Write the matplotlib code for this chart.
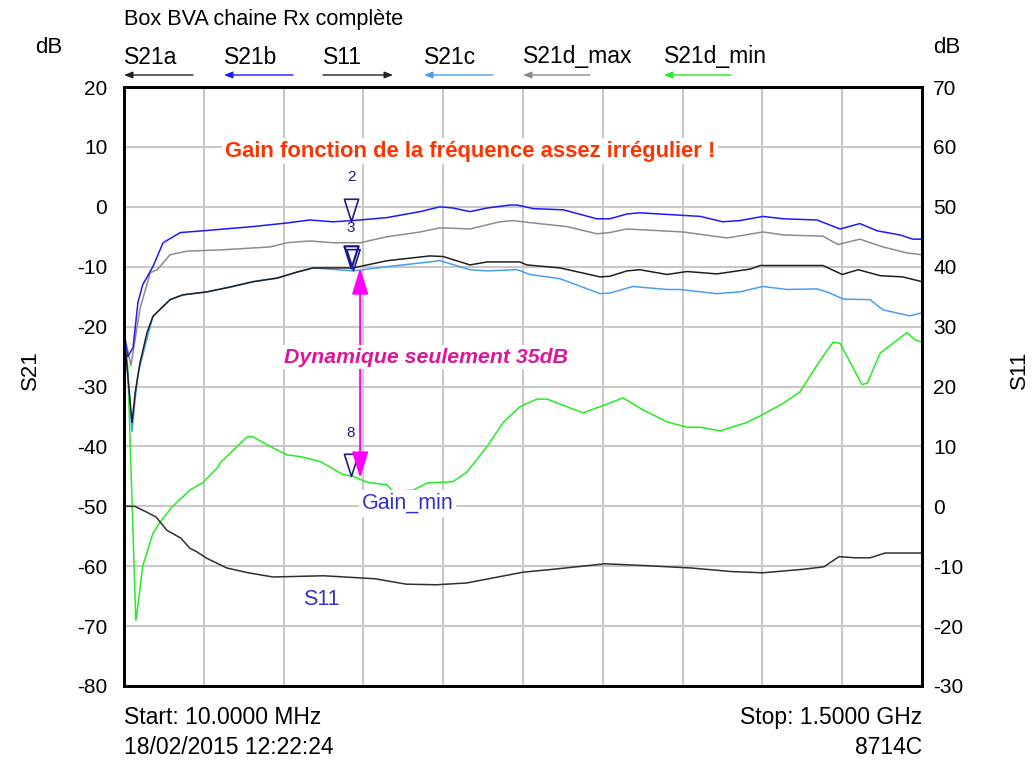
import matplotlib
matplotlib.use("Agg")
import matplotlib.pyplot as plt
from matplotlib.path import Path

plt.rcParams['font.family'] = ['Liberation Sans', 'DejaVu Sans']
plt.rcParams['axes.unicode_minus'] = False

# frequencies in MHz, levels in dB
s21b_f = [10, 17, 27, 36, 45, 64, 83, 115, 158, 251, 314, 357, 400, 438, 501, 563, 600, 624, 656, 688,
          731, 744, 774, 830, 893, 917, 949, 973, 1086, 1128, 1160, 1203, 1241, 1304, 1347, 1384, 1416,
          1459, 1483, 1500]
s21b_db = [-21, -25, -23.5, -16, -13, -10, -6, -4.3, -4, -3.3, -2.7, -2.2, -2.5, -2.3, -1.8, -0.8, 0, -0.2,
           -0.8, -0.2, 0.3, 0.3, -0.3, -0.5, -2, -2, -1.2, -1, -1.6, -2.5, -2.3, -1.6, -2, -2.2, -3.7, -2.8,
           -4, -4.7, -5.4, -5.4]

s21dmax_f = [10, 17, 23, 31, 40, 59, 72, 96, 128, 189, 283, 314, 357, 400, 451, 501, 563, 600, 656, 688,
             712, 736, 774, 837, 893, 917, 949, 1054, 1136, 1203, 1241, 1315, 1343, 1384, 1427, 1472, 1500]
s21dmax_db = [-21, -24, -26.5, -22, -17, -11, -10.5, -8, -7.4, -7.2, -6.7, -6, -5.7, -6, -6, -5, -4.2, -3.5,
              -3.7, -3, -2.5, -2.3, -2.7, -3.3, -4.5, -4.3, -3.7, -4.2, -5.2, -4.2, -4.7, -4.9, -6.3, -5.4,
              -6.7, -7.7, -8]

s21a_f = [10, 17, 25, 31, 40, 53, 64, 96, 120, 165, 208, 251, 296, 333, 363, 438, 501, 581, 606, 656, 688,
          749, 762, 824, 899, 917, 949, 973, 1024, 1061, 1117, 1179, 1198, 1315, 1351, 1381, 1422, 1464, 1500]
s21a_db = [-21, -28, -36, -31, -26, -21, -18.3, -15.5, -14.7, -14.2, -13.4, -12.5, -11.9, -10.9, -10.2,
           -10.2, -9, -8.2, -8.3, -9.7, -9.2, -9.2, -9.7, -10.2, -11.7, -11.6, -10.7, -10.5, -11.3, -10.8,
           -11.2, -10.4, -9.8, -9.8, -11.3, -10.5, -11.5, -11.7, -12.5]

s21c_f = [10, 17, 25, 31, 36, 40, 53, 64, 96, 120, 165, 208, 251, 296, 333, 363, 438, 501, 600, 656, 688,
          744, 768, 824, 899, 917, 960, 1024, 1048, 1117, 1160, 1203, 1248, 1304, 1328, 1353, 1403, 1427,
          1477, 1500]
s21c_db = [-21, -28, -37.5, -32, -28, -26.5, -22, -18.3, -15.5, -14.7, -14.2, -13.4, -12.5, -11.9, -10.9,
           -10.2, -10.7, -10, -9, -10.5, -10.7, -10.5, -11.3, -12, -14.5, -14.4, -13.3, -13.8, -13.8, -14.5,
           -14.2, -13.3, -13.8, -13.7, -14.4, -15.4, -15.5, -17.2, -18.2, -17.7]

s21dmin_f = [10, 17, 25, 32, 34, 45, 64, 77, 101, 133, 158, 186, 189, 240, 251, 283, 314, 339, 376, 419,
             438, 464, 501, 512, 550, 576, 624, 650, 688, 718, 749, 781, 800, 867, 904, 942, 979, 1024,
             1061, 1086, 1123, 1173, 1198, 1241, 1272, 1310, 1334, 1347, 1388, 1398, 1422, 1472, 1487, 1500]
s21dmin_db = [-21, -26.7, -49, -69, -68, -60, -54.5, -52.7, -50, -47.3, -46, -43.4, -42.8, -38.4, -38.4,
              -40, -41.4, -41.7, -42.5, -44.7, -45, -46, -46.4, -47.5, -47.3, -46.1, -45.9, -44.3, -40, -36,
              -33.4, -32.1, -32.1, -34.4, -33.2, -31.9, -33.9, -35.9, -36.8, -36.8, -37.4, -36, -34.9, -32.8,
              -30.9, -25.6, -22.6, -22.8, -29.7, -29.4, -24.4, -21, -22.2, -22.6]

s11_f = [10, 30, 53, 70, 90, 116, 133, 146, 165, 202, 242, 288, 383, 441, 479, 537, 593, 650, 755, 813,
         908, 983, 1069, 1145, 1203, 1280, 1317, 1345, 1375, 1403, 1431, 1500]
s11_db = [0, 0, -1, -1.8, -4, -5.3, -7, -7.6, -8.7, -10.3, -11.1, -11.8, -11.6, -11.9, -12.1, -13, -13.1,
          -12.8, -11, -10.5, -9.6, -9.9, -10.3, -10.9, -11.1, -10.5, -10.1, -8.4, -8.6, -8.6, -7.8, -7.8]

legend_names = ['S21a', 'S21b', 'S11', 'S21c', 'S21d_max', 'S21d_min']
legend_colors = ['#202020', '#1a1aff', '#202020', '#4a9ef0', '#8c8c8c', '#22ee22']

fig = plt.figure(figsize=(10.34, 7.64), dpi=100)
ax = fig.add_axes([0.1199, 0.1021, 0.7718, 0.784])
ax.set_xlim(10, 1500)
ax.set_ylim(-80, 20)
ax.set_yticks(range(-80, 21, 10))
ax.set_xticks([10 + 149 * i for i in range(11)])
ax.set_xticklabels([])
ax.grid(True, color='#c8c8c8', lw=1.5)
ax.set_axisbelow(True)
ax.tick_params(axis='both', length=0, labelsize=15, pad=12)
for s in ax.spines.values():
    s.set_linewidth(2)
    s.set_color('black')

ax.plot(s21dmin_f, s21dmin_db, color='#22ee22', lw=1.1)
ax.plot(s21dmax_f, s21dmax_db, color='#8c8c8c', lw=1.1)
ax.plot(s21b_f, s21b_db, color='#1a1aff', lw=1.1)
ax.plot(s21c_f, s21c_db, color='#4a9ef0', lw=1.1)
ax.plot(s21a_f, s21a_db, color='#202020', lw=1.1)

ax2 = ax.twinx()
ax2.set_ylim(-30, 70)
ax2.set_yticks(range(-30, 71, 10))
ax2.tick_params(axis='y', length=0, labelsize=15, pad=8)
for s in ax2.spines.values():
    s.set_linewidth(2)
ax2.plot(s11_f, s11_db, color='#303030', lw=1.1)

# markers
tri = Path([(-0.32, 1), (0.32, 1), (0, 0), (-0.32, 1)],
           [Path.MOVETO, Path.LINETO, Path.LINETO, Path.CLOSEPOLY])
navy = '#1c1c8c'
ax.plot([434], [-2.3], marker=tri, ms=32, mfc='none', mec=navy, mew=1.2)
ax.plot([434], [-10.2], marker=tri, ms=32, mfc='none', mec=navy, mew=1.6)
ax.plot([437], [-10.5], marker=tri, ms=30, mfc='none', mec=navy, mew=1.2)
ax.plot([434], [-45], marker=tri, ms=32, mfc='none', mec=navy, mew=1.2)
ax.text(434, 5, '2', color=navy, fontsize=11, ha='center', va='center')
ax.text(434, -3.6, '3', color=navy, fontsize=11, ha='center', va='center')
ax.text(434, -37.8, '8', color=navy, fontsize=11, ha='center', va='center')

ax.annotate('', xy=(451, -10.2), xytext=(451, -45.3),
            arrowprops=dict(arrowstyle='<|-|>,head_length=1.6,head_width=0.5',
                            color='#ff00ff', lw=1.5, shrinkA=0, shrinkB=0))

box = dict(facecolor='white', edgecolor='none', pad=2)
ax.text(656, 9.3, 'Gain fonction de la fréquence assez irrégulier !', color='#ff3300',
        fontsize=15.8, fontweight='bold', ha='center', va='center', bbox=box)
ax.text(574, -25.1, 'Dynamique seulement 35dB', color='#e0139a', fontsize=15.3,
        fontweight='bold', style='italic', ha='center', va='center', bbox=box)
ax.text(454, -49.5, 'Gain_min', color='#3333cc', fontsize=15.5, ha='left', va='center', bbox=box)
ax.text(344, -65.6, 'S11', color='#3333cc', fontsize=15.5, ha='left', va='center', bbox=box)

# header
fig.text(0.12, 0.975, 'Box BVA chaine Rx complète', fontsize=15.6, ha='left', va='center')
fig.text(0.047, 0.938, 'dB', fontsize=16, ha='center', va='center')
fig.text(0.916, 0.938, 'dB', fontsize=16, ha='center', va='center')
fig.text(0.029, 0.516, 'S21', fontsize=16, rotation=90, ha='center', va='center')
fig.text(0.986, 0.516, 'S11', fontsize=16, rotation=90, ha='center', va='center')

leg_x = [124, 224, 323, 424, 523, 664]
leg_w = [69, 69, 70, 69, 67, 67]
for name, c, x0, w in zip(legend_names, legend_colors, leg_x, leg_w):
    fig.text(x0 / 1034, 1 - 57 / 764, name, fontsize=16.5, ha='left', va='center')
    a, b = x0 / 1034, (x0 + w) / 1034
    if name == 'S11':
        a, b = b, a
    ax.annotate('', xy=(a, 1 - 75 / 764), xytext=(b, 1 - 75 / 764), xycoords='figure fraction',
                textcoords='figure fraction',
                arrowprops=dict(arrowstyle='-|>,head_length=0.5,head_width=0.2', color=c, lw=1,
                                shrinkA=0, shrinkB=0))

fig.text(0.12, 0.0615, 'Start: 10.0000 MHz', fontsize=16.5, ha='left', va='center')
fig.text(0.8917, 0.0615, 'Stop: 1.5000 GHz', fontsize=16.5, ha='right', va='center')
fig.text(0.12, 0.021, '18/02/2015 12:22:24', fontsize=16.5, ha='left', va='center')
fig.text(0.8917, 0.021, '8714C', fontsize=16.5, ha='right', va='center')

fig.savefig('out.png', dpi=100)
